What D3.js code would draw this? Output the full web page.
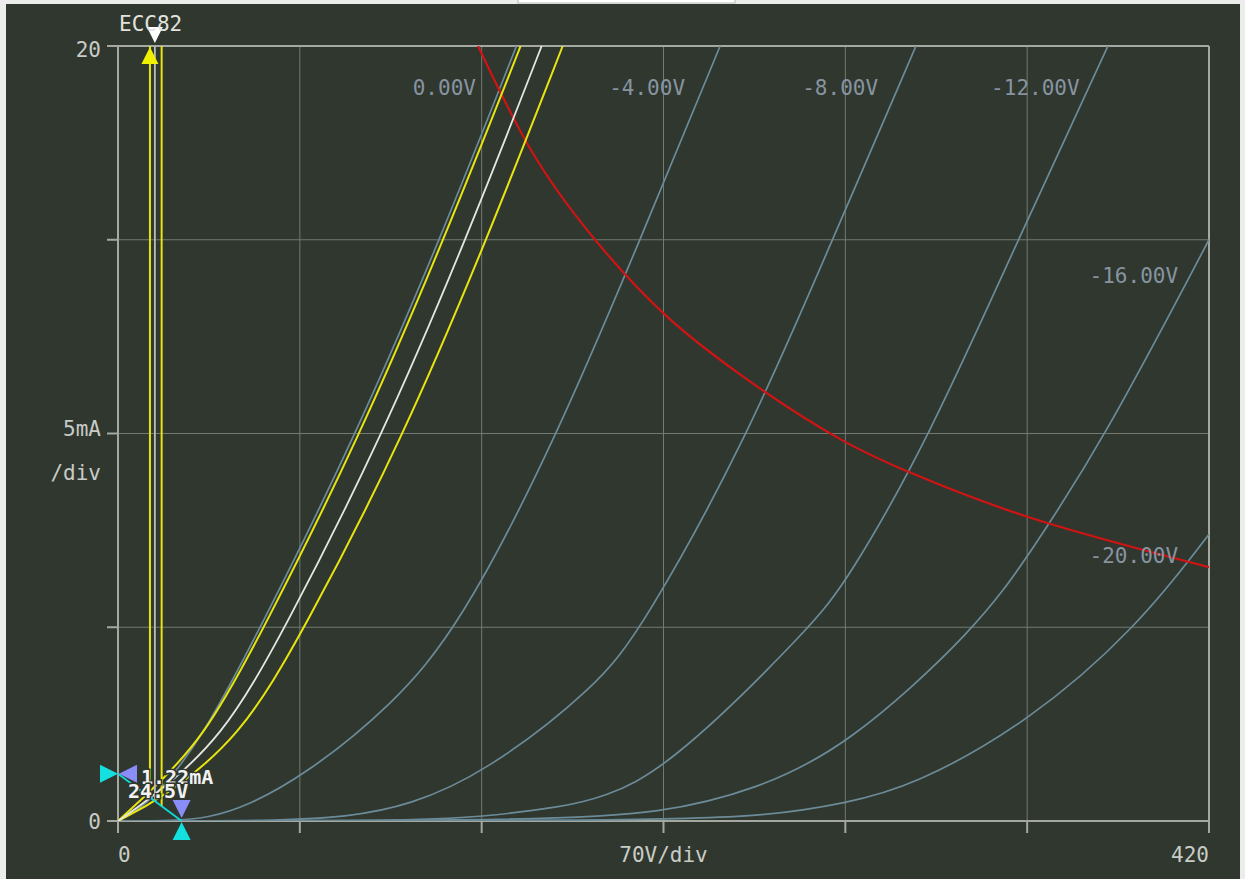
<!DOCTYPE html>
<html><head><meta charset="utf-8">
<script src="https://cdn.jsdelivr.net/npm/d3@7"></script>
<style>
html,body{margin:0;padding:0;background:#ececec;}
svg{display:block;}
text{font-family:"DejaVu Sans Mono",monospace;}
</style></head><body>
<svg id="c" width="1245" height="879"></svg>
<script>
// ---------------- data (plate volts V, plate current mA) ----------------
const tubeName = "ECC82";
const gridVolts = [0, -4, -8, -12, -16, -20];
const gridLabels = ["0.00V", "-4.00V", "-8.00V", "-12.00V", "-16.00V", "-20.00V"];
const curveG0   = [[0,0],[8,0.3],[16.5,0.8],[32,2.1],[55,5],[90.7,9.83],[124,15],[153.4,20]];
const curveG4   = [[0,0],[22,0.005],[34.3,0.08],[49.5,0.37],[72.9,1.23],[105,2.95],[131.5,5],[168.4,9.83],[201,15],[231.8,20]];
const curveG8   = [[0,0],[60,0.005],[88,0.1],[112,0.4],[141,1.23],[184,3.45],[202,5],[241.9,9.83],[275,15],[307.2,20]];
const curveG12  = [[0,0],[110,0.005],[140,0.1],[171.7,0.37],[186,0.6],[211,1.3],[266.7,5],[281,6.22],[311.8,9.83],[346.5,15],[381.1,20]];
const curveG16  = [[0,0],[160,0.005],[210.3,0.2],[245,0.8],[280.2,1.88],[331,5],[351,6.9],[379.4,9.83],[420,15.0]];
const curveG20  = [[0,0],[200,0.005],[250,0.12],[280.2,0.46],[305.7,0.89],[350.1,2.52],[392.5,5],[420,7.4]];
const gridCurves = [curveG0, curveG4, curveG8, curveG12, curveG16, curveG20];

const biasLow   = [[0,0],[9,0.55],[33,2.09],[56.4,5],[92.4,9.83],[125.5,15],[155,20]];
const biasMid   = [[0,0],[12,0.55],[39.9,2.09],[64.6,5],[101,9.83],[134,15],[163.1,20]];
const biasHigh  = [[0,0],[16,0.55],[46.7,2.09],[72.2,5],[109.3,9.83],[142,15],[171.2,20]];

const powerV = [138.6, 160, 180, 210, 240, 278.7, 304.3, 350.1, 420];
const powerI = [20, 17.2, 15.3, 13.1, 11.5, 9.83, 9.01, 7.85, 6.55];

const loadI0 = 1.22;   // mA at 0 V
const loadV0 = 24.5;   // V at 0 mA
const swingV = [12.3, 16.8];
const quiescentV = 14.2;

const xTickLabels = [[0, "0"], [210, "70V/div"], [420, "420"]];
const yTickLabels = [[0, "0"], [10, "5mA"], [20, "20"]];

// ---------------- layout ----------------
const svg = d3.select("#c");
const X0 = 118, X1 = 1209, Y0 = 46, Y1 = 821;
const x = d3.scaleLinear().domain([0, 420]).range([X0, X1]);
const y = d3.scaleLinear().domain([0, 20]).range([Y1, Y0]);

svg.append("rect").attr("x", 6).attr("y", 4).attr("width", 1234).attr("height", 875).attr("fill", "#2f372f");
svg.append("rect").attr("x", 518).attr("y", -2).attr("width", 217).attr("height", 5)
  .attr("fill", "#ffffff").attr("stroke", "#b8b8b8");

const defs = svg.append("defs");
defs.append("clipPath").attr("id", "plot").append("rect")
  .attr("x", X0).attr("y", Y0).attr("width", X1 - X0).attr("height", Y1 - Y0);

// grid
const vt = d3.range(0, 421, 70), it = d3.range(0, 21, 5);
const g = svg.append("g");
g.selectAll(".vg").data(vt.filter(v => v > 0 && v < 420)).join("line")
  .attr("x1", d => x(d)).attr("x2", d => x(d)).attr("y1", Y0).attr("y2", Y1)
  .attr("stroke", "#737a72").attr("stroke-width", 1);
g.selectAll(".hg").data(it.filter(v => v > 0 && v < 20)).join("line")
  .attr("x1", X0).attr("x2", X1).attr("y1", d => y(d)).attr("y2", d => y(d))
  .attr("stroke", "#737a72").attr("stroke-width", 1);
// frame
const frame = "#a4a8a0";
g.append("line").attr("x1", X0).attr("x2", X1).attr("y1", Y0).attr("y2", Y0).attr("stroke", frame).attr("stroke-width", 2);
g.append("line").attr("x1", X0).attr("x2", X1).attr("y1", Y1).attr("y2", Y1).attr("stroke", frame).attr("stroke-width", 2);
g.append("line").attr("x1", X0).attr("x2", X0).attr("y1", Y0).attr("y2", Y1 + 12).attr("stroke", frame).attr("stroke-width", 2);
g.append("line").attr("x1", X1).attr("x2", X1).attr("y1", Y0).attr("y2", Y1 + 12).attr("stroke", frame).attr("stroke-width", 2);
// ticks
g.selectAll(".xt").data(vt).join("line")
  .attr("x1", d => x(d)).attr("x2", d => x(d)).attr("y1", Y1).attr("y2", Y1 + 12)
  .attr("stroke", frame).attr("stroke-width", 2);
g.selectAll(".yt").data(it).join("line")
  .attr("x1", X0 - 11).attr("x2", X0).attr("y1", d => y(d)).attr("y2", d => y(d))
  .attr("stroke", frame).attr("stroke-width", 2);

// tick labels
const lblCol = "#c9cbc6";
svg.selectAll(".xl").data(xTickLabels).join("text")
  .attr("x", d => x(d[0]))
  .attr("y", 862)
  .attr("text-anchor", d => d[0] === 0 ? "start" : (d[0] === 420 ? "end" : "middle"))
  .attr("font-size", 21).attr("fill", lblCol).text(d => d[1]);
svg.selectAll(".yl").data(yTickLabels).join("text")
  .attr("x", 101)
  .attr("y", d => d[0] === 20 ? y(d[0]) + 11 : (d[0] === 0 ? y(d[0]) + 8 : y(d[0]) + 2))
  .attr("text-anchor", "end").attr("font-size", 21).attr("fill", lblCol).text(d => d[1]);
svg.append("text").attr("x", 101).attr("y", y(10) + 46).attr("text-anchor", "end")
  .attr("font-size", 21).attr("fill", lblCol).text("/div");

// curves
const smooth = d3.line().x(d => x(d[0])).y(d => y(d[1])).curve(d3.curveBasis);
const line = d3.line().x(d => x(d[0])).y(d => y(d[1])).curve(d3.curveCatmullRom.alpha(0.5));
const plot = svg.append("g").attr("clip-path", "url(#plot)");
plot.selectAll(".gc").data(gridCurves).join("path")
  .attr("d", smooth).attr("fill", "none").attr("stroke", "#6c8b99").attr("stroke-width", 1.7);

// power dissipation
const pw = powerV.map((v, i) => [v, powerI[i]]);
plot.append("path").attr("d", line(pw))
  .attr("fill", "none").attr("stroke", "#d01414").attr("stroke-width", 2.2);

// bias curves
plot.append("path").attr("d", smooth(biasLow)).attr("fill", "none").attr("stroke", "#e8e410").attr("stroke-width", 2);
plot.append("path").attr("d", smooth(biasHigh)).attr("fill", "none").attr("stroke", "#e8e410").attr("stroke-width", 2);
plot.append("path").attr("d", smooth(biasMid)).attr("fill", "none").attr("stroke", "#e6e6e0").attr("stroke-width", 1.8);

// load line and swing verticals
const loadAt = v => loadI0 * (1 - v / loadV0);
swingV.forEach(v => {
  plot.append("line").attr("x1", x(v)).attr("x2", x(v)).attr("y1", y(loadAt(v))).attr("y2", y(20))
    .attr("stroke", "#e8e410").attr("stroke-width", 2);
});
plot.append("line").attr("x1", x(quiescentV)).attr("x2", x(quiescentV)).attr("y1", y(loadAt(quiescentV))).attr("y2", y(20))
  .attr("stroke", "#b8bcb4").attr("stroke-width", 1.8);
svg.append("line").attr("x1", x(0)).attr("y1", y(loadI0)).attr("x2", x(loadV0)).attr("y2", y(0))
  .attr("stroke", "#12d8d8").attr("stroke-width", 1.8);

// curve labels
const labelPos = [[137.8, 18.74], [218.3, 18.74], [292.6, 18.74], [370.2, 18.74], [408.1, 13.88], [408.1, 6.66]];
svg.selectAll(".cl").data(gridLabels).join("text")
  .attr("x", (d, i) => x(labelPos[i][0])).attr("y", (d, i) => y(labelPos[i][1]))
  .attr("text-anchor", "end").attr("font-size", 21).attr("fill", "#8794a0").text(d => d);

// markers
const tri = (cx, cy, dir, s, fill) => {
  let p;
  if (dir === "down") p = [[cx - s, cy - 2 * s], [cx + s, cy - 2 * s], [cx, cy]];
  if (dir === "up") p = [[cx - s, cy + 2 * s], [cx + s, cy + 2 * s], [cx, cy]];
  if (dir === "right") p = [[cx - 2 * s, cy - s], [cx - 2 * s, cy + s], [cx, cy]];
  if (dir === "left") p = [[cx + 2 * s, cy - s], [cx + 2 * s, cy + s], [cx, cy]];
  svg.append("polygon").attr("points", p.map(q => q.join(",")).join(" ")).attr("fill", fill);
};
tri(x(loadV0), y(0) + 1, "up", 9, "#14e0e0");
tri(x(loadV0), y(0) - 3, "down", 9, "#8a8cf8");
tri(x(0), y(loadI0), "right", 9, "#14e0e0");
tri(x(0) + 1, y(loadI0), "left", 9, "#8a8cf8");
tri(x(quiescentV), y(20) - 3, "down", 8, "#ffffff");
tri(x(swingV[0]), y(20) + 1, "up", 8.5, "#f0f000");

svg.append("text").attr("x", 119).attr("y", 31).attr("font-size", 21).attr("fill", "#e2e2de").text(tubeName);

const opLabel = (tx, ty, s) => svg.append("text").attr("x", tx).attr("y", ty).attr("font-size", 20)
  .attr("font-weight", "bold").attr("fill", "#f2f2f2").attr("stroke", "#2f372f").attr("stroke-width", 3)
  .attr("paint-order", "stroke").text(s);
opLabel(x(0) + 23, y(loadI0) + 10, loadI0.toFixed(2) + "mA");
opLabel(x(0) + 10, y(loadI0) + 24, loadV0.toFixed(1) + "V");
</script></body></html>
